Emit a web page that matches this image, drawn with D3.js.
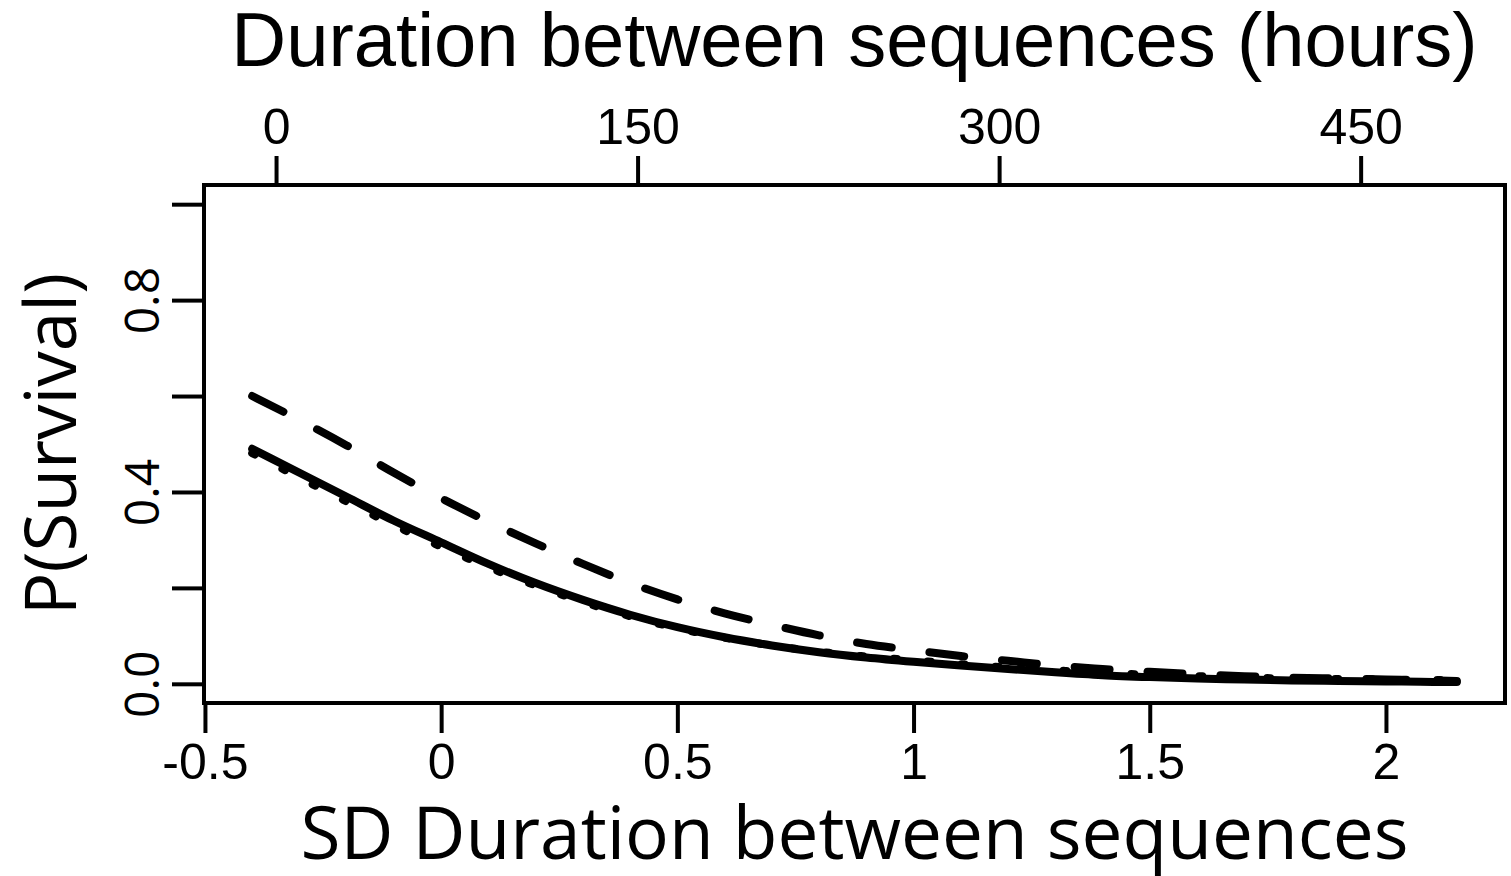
<!DOCTYPE html>
<head>
  <meta charset="utf-8">
  <script src="https://d3js.org/d3.v7.min.js"></script>
  <style>
    body { margin:0; background:#fff; }
    .frame { fill:none; stroke:black; stroke-width:4; }
    .axis path { display:none; }
    .axis line { stroke:black; stroke-width:4; }
    .axis text { fill:black; font-family:"Liberation Sans", Arial, sans-serif; font-size:50px; }
    .curve { fill:none; stroke:black; stroke-width:8; stroke-linecap:round; stroke-linejoin:round; }
  </style>
</head>
<body>
  <script>
    var sdDuration = [-0.4, -0.3, -0.2, -0.1, 0, 0.1, 0.2, 0.3, 0.4, 0.5, 0.6, 0.7, 0.8, 0.9,
                      1.0, 1.1, 1.2, 1.3, 1.4, 1.5, 1.6, 1.7, 1.8, 1.9, 2.0, 2.1, 2.15];
    var survSolid  = [0.49, 0.44, 0.39, 0.34, 0.295, 0.25, 0.21, 0.175, 0.144, 0.118, 0.097, 0.080, 0.066, 0.055,
                      0.046, 0.038, 0.031, 0.024, 0.018, 0.014, 0.011, 0.009, 0.007, 0.006, 0.005, 0.004, 0.004];
    var survDotted = [0.481, 0.430, 0.380, 0.331, 0.286, 0.243, 0.205, 0.171, 0.141, 0.116, 0.096, 0.080, 0.067, 0.057,
                      0.049, 0.041, 0.034, 0.028, 0.023, 0.019, 0.016, 0.013, 0.011, 0.010, 0.009, 0.008, 0.008];
    var survDashed = [0.60, 0.55, 0.497, 0.44, 0.387, 0.338, 0.293, 0.25, 0.21, 0.176, 0.147, 0.123, 0.101, 0.083,
                      0.07, 0.058, 0.048, 0.038, 0.031, 0.025, 0.02, 0.016, 0.013, 0.011, 0.009, 0.007, 0.006];

    var xTicks = [-0.5, 0, 0.5, 1, 1.5, 2];
    var xTickLabels = ["-0.5", "0", "0.5", "1", "1.5", "2"];
    var yTicks = [0, 0.2, 0.4, 0.6, 0.8, 1.0];
    var yTickLabels = ["0.0", "", "0.4", "", "0.8", ""];
    var hourTicks = [0, 150, 300, 450];
    // hours = mean + sd * SD value
    var hoursMean = 68.5, hoursSd = 196;

    var margin = {top: 185, right: 6, bottom: 173, left: 204};
    var width = 1511 - margin.left - margin.right,
        height = 876 - margin.top - margin.bottom;

    var svg = d3.select("body").append("svg")
        .attr("width", 1511)
        .attr("height", 876)
      .append("g")
        .attr("transform", "translate(" + margin.left + "," + margin.top + ")");

    // R style 4% padding around the data range
    var xExt = d3.extent(sdDuration), xPad = (xExt[1] - xExt[0]) * 0.04;
    var x = d3.scaleLinear()
      .domain([xExt[0] - xPad, xExt[1] + xPad])
      .range([0, width]);

    var y = d3.scaleLinear()
      .domain([-0.04, 1.04])
      .range([height, 0]);

    var xTop = d3.scaleLinear()
      .domain(x.domain().map(function(d) { return hoursMean + hoursSd * d; }))
      .range([0, width]);

    var line = d3.line()
      .curve(d3.curveMonotoneX)
      .x(function(d) { return x(d[0]); })
      .y(function(d) { return y(d[1]); });

    function pairs(vals) {
      return sdDuration.map(function(s, i) { return [s, vals[i]]; });
    }

    svg.append("path")
      .attr("class", "curve")
      .attr("d", line(pairs(survSolid)));

    svg.append("path")
      .attr("class", "curve")
      .attr("stroke-dasharray", "3 31")
      .attr("d", line(pairs(survDotted)));

    svg.append("path")
      .attr("class", "curve")
      .attr("stroke-dasharray", "35 38")
      .attr("d", line(pairs(survDashed)));

    svg.append("rect")
      .attr("class", "frame")
      .attr("width", width)
      .attr("height", height);

    svg.append("g")
      .attr("class", "axis")
      .attr("transform", "translate(0," + height + ")")
      .call(d3.axisBottom(x).tickValues(xTicks).tickSize(30).tickPadding(10)
        .tickFormat(function(d, i) { return xTickLabels[i]; }));

    svg.append("g")
      .attr("class", "axis")
      .call(d3.axisTop(xTop).tickValues(hourTicks).tickSize(29).tickPadding(12));

    var yAxis = svg.append("g")
      .attr("class", "axis")
      .call(d3.axisLeft(y).tickValues(yTicks).tickSize(32)
        .tickFormat(function(d, i) { return yTickLabels[i]; }));

    yAxis.selectAll("text")
      .attr("x", null).attr("dy", null)
      .attr("text-anchor", "middle")
      .attr("transform", "translate(-45,0) rotate(-90)")
      .style("font-family", "'Open Sans', sans-serif")
      .style("font-size", "48px");

    svg.append("text")
      .attr("x", width / 2)
      .attr("y", -119)
      .attr("text-anchor", "middle")
      .style("font-family", "'Liberation Sans', Arial, sans-serif")
      .style("font-size", "76px")
      .text("Duration between sequences (hours)");

    svg.append("text")
      .attr("x", width / 2)
      .attr("y", height + 156)
      .attr("text-anchor", "middle")
      .style("font-family", "'Open Sans', sans-serif")
      .style("font-size", "73px")
      .text("SD Duration between sequences");

    svg.append("text")
      .attr("transform", "translate(-128," + (height / 2) + ") rotate(-90)")
      .attr("text-anchor", "middle")
      .style("font-family", "'Open Sans', sans-serif")
      .style("font-size", "71px")
      .text("P(Survival)");
  </script>
</body>
